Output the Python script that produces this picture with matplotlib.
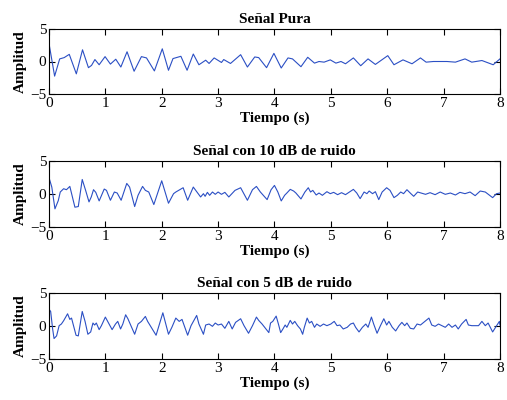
"""Señal pura y con ruido (10 dB, 5 dB): tres paneles apilados estilo MATLAB."""

import matplotlib as mpl
import matplotlib.pyplot as plt

mpl.use("Agg")

# (tiempo [s], amplitud)
PURA = [
    (0.0, 2.8), (0.1, -2.25), (0.19, 0.4), (0.27, 0.6), (0.36, 1.1), (0.485, -1.9),
    (0.595, 1.8), (0.7, -0.95), (0.755, -0.6), (0.815, 0.3), (0.89, -0.5), (0.995, 0.75),
    (1.09, -0.4), (1.185, 0.35), (1.275, -0.85), (1.385, 1.5), (1.51, -1.5), (1.64, 0.75),
    (1.73, 0.55), (1.87, -1.45), (2.01, 1.95), (2.12, -1.35), (2.2, 0.45), (2.34, 0.8),
    (2.45, -1.35), (2.56, 1.15), (2.66, -0.5), (2.72, -0.15), (2.78, 0.2), (2.84, -0.3),
    (2.93, 0.55), (3.06, -0.15), (3.1, 0.3), (3.22, -0.3), (3.4, 1.05), (3.52, -0.85),
    (3.65, 0.7), (3.72, 0.6), (3.86, -0.95), (3.99, 1.25), (4.12, -1.0), (4.24, 0.55),
    (4.32, 0.4), (4.47, -0.8), (4.59, 0.65), (4.71, -0.25), (4.79, 0.0), (4.88, -0.1),
    (4.99, 0.25), (5.09, -0.25), (5.18, 0.0), (5.26, -0.35), (5.4, 0.55), (5.53, -0.65),
    (5.66, 0.4), (5.79, -0.45), (6.01, 0.9), (6.12, -0.5), (6.28, 0.25), (6.44, -0.35),
    (6.59, 0.55), (6.69, -0.1), (6.82, 0.0), (7.06, 0.0), (7.21, -0.1), (7.38, 0.4),
    (7.5, -0.1), (7.68, 0.15), (7.88, -0.5), (8.0, 0.4),
]

RUIDO_10 = [
    (0.0, 2.5), (0.05, 1.05), (0.106, -2.25), (0.165, -1.0), (0.2, 0.3), (0.26, 0.8),
    (0.31, 0.65), (0.37, 1.15), (0.46, -2.0), (0.52, -1.9), (0.59, 2.2), (0.65, 0.55),
    (0.71, -1.2), (0.75, -0.45), (0.79, 0.65), (0.83, 0.25), (0.89, -1.05), (0.98, 0.75),
    (1.02, 0.55), (1.09, -0.95), (1.16, 0.3), (1.21, 0.15), (1.28, -0.95), (1.38, 1.6),
    (1.43, 1.05), (1.52, -1.9), (1.58, -0.2), (1.66, 1.15), (1.71, 0.55), (1.77, 0.3),
    (1.86, -1.6), (2.0, 2.0), (2.12, -1.4), (2.21, 0.05), (2.25, 0.3), (2.38, 0.95),
    (2.46, -0.95), (2.56, 1.05), (2.69, -0.45), (2.74, 0.05), (2.77, -0.35), (2.81, 0.25),
    (2.85, -0.2), (2.9, 0.3), (2.95, -0.05), (3.0, 0.3), (3.06, -0.05), (3.12, 0.25),
    (3.19, -0.45), (3.3, 0.55), (3.4, 0.95), (3.52, -0.95), (3.61, 0.65), (3.68, 1.15),
    (3.75, 0.3), (3.87, -0.85), (3.94, 0.65), (4.0, 1.3), (4.06, 0.3), (4.12, -1.05),
    (4.18, -0.2), (4.22, 0.15), (4.28, 0.7), (4.34, 0.45), (4.38, 0.15), (4.47, -0.75),
    (4.54, 0.3), (4.6, 0.95), (4.64, 0.3), (4.68, 0.55), (4.74, -0.15), (4.79, 0.15),
    (4.85, -0.2), (4.93, 0.35), (4.99, 0.05), (5.05, 0.25), (5.12, -0.1), (5.19, 0.2),
    (5.26, -0.1), (5.4, 0.7), (5.46, 0.15), (5.52, -0.7), (5.59, 0.3), (5.64, 0.05),
    (5.68, 0.45), (5.74, 0.05), (5.79, 0.35), (5.85, -0.85), (5.91, 0.3), (5.99, 0.95),
    (6.05, 0.55), (6.12, -0.55), (6.18, -0.2), (6.24, 0.3), (6.29, 0.05), (6.35, 0.65),
    (6.42, 0.05), (6.47, -0.35), (6.54, 0.3), (6.6, 0.15), (6.68, -0.05), (6.76, 0.2),
    (6.85, -0.1), (6.94, 0.3), (7.03, -0.05), (7.12, 0.15), (7.21, -0.15), (7.29, 0.25),
    (7.38, 0.05), (7.47, 0.3), (7.56, -0.25), (7.65, 0.45), (7.74, 0.3), (7.87, -0.55),
    (7.94, 0.05), (8.0, 0.15),
]

RUIDO_5 = [
    (0.0, 2.55), (0.03, 2.2), (0.065, -0.45), (0.09, -1.9), (0.135, -1.5), (0.18, 0.05),
    (0.22, 0.3), (0.26, 0.8), (0.33, 1.85), (0.37, 1.0), (0.4, 1.2), (0.48, -1.4),
    (0.52, -1.5), (0.59, 2.2), (0.64, 0.7), (0.69, -1.25), (0.74, -0.9), (0.78, 0.45),
    (0.81, 0.15), (0.84, 0.45), (0.89, -0.55), (0.93, 0.05), (1.0, 1.35), (1.05, 0.55),
    (1.12, -0.55), (1.18, 0.3), (1.22, 0.7), (1.27, -0.45), (1.31, 0.3), (1.36, 1.7),
    (1.4, 1.1), (1.52, -1.25), (1.58, 0.3), (1.64, 0.7), (1.71, 1.45), (1.75, 0.7),
    (1.9, -1.4), (2.02, 2.0), (2.06, 0.7), (2.12, -1.25), (2.18, -0.2), (2.25, 1.2),
    (2.31, 0.7), (2.36, 1.0), (2.46, -1.4), (2.52, 0.05), (2.62, 1.6), (2.66, 0.3),
    (2.74, -1.25), (2.78, 0.15), (2.84, 0.3), (2.9, -0.05), (2.95, 0.45), (3.0, 0.15),
    (3.06, 0.3), (3.12, -0.35), (3.19, 0.7), (3.25, -0.45), (3.31, 0.55), (3.4, 1.1),
    (3.46, 0.05), (3.54, -1.1), (3.61, 0.05), (3.68, 1.35), (3.72, 0.85), (3.78, 0.3),
    (3.9, -1.0), (3.93, 0.45), (3.97, 0.7), (4.03, 1.5), (4.07, 0.3), (4.11, -1.0),
    (4.15, -0.45), (4.19, 0.15), (4.22, -0.2), (4.28, 0.85), (4.32, 0.3), (4.36, 0.7),
    (4.41, 0.05), (4.46, -0.45), (4.5, -1.25), (4.53, -0.2), (4.58, 1.2), (4.62, 0.45),
    (4.66, 0.7), (4.71, -0.2), (4.75, 0.3), (4.81, -0.05), (4.87, 0.3), (4.93, 0.05),
    (5.0, 0.3), (5.06, 0.7), (5.11, 0.05), (5.16, 0.15), (5.22, -0.45), (5.29, -0.2),
    (5.35, 0.3), (5.4, 0.45), (5.44, -0.2), (5.5, -0.9), (5.56, -0.2), (5.62, 0.3),
    (5.66, -0.2), (5.72, 1.35), (5.76, 0.3), (5.82, -1.1), (5.88, 0.05), (5.94, 1.1),
    (5.99, 0.15), (6.03, 0.7), (6.09, -0.2), (6.15, -0.75), (6.21, 0.05), (6.26, 0.55),
    (6.31, 0.05), (6.35, 0.45), (6.41, -0.35), (6.47, -0.45), (6.53, 0.3), (6.59, 0.15),
    (6.74, 1.2), (6.79, 0.15), (6.85, -0.05), (6.91, 0.3), (6.97, 0.05), (7.03, -0.2),
    (7.09, 0.3), (7.15, -0.2), (7.21, 0.15), (7.26, -0.45), (7.32, 0.3), (7.4, 1.0),
    (7.44, 0.15), (7.5, 0.05), (7.62, 0.05), (7.68, 0.7), (7.74, 0.05), (7.79, 0.45),
    (7.87, -0.9), (7.94, 0.05), (7.99, 0.7), (8.0, 0.15),
]

TITULOS = ["Señal Pura", "Señal con 10 dB de ruido", "Señal con 5 dB de ruido"]
X_TICKS = [0, 1, 2, 3, 4, 5, 6, 7, 8]
Y_TICKS = [-5, 0, 5]

LINE_COLOR = "#2b4fc4"
SERIF = ["Liberation Serif", "DejaVu Serif"]

mpl.rcParams.update({
    "font.family": SERIF,
    "xtick.direction": "in",
    "ytick.direction": "in",
    "xtick.top": True,
    "ytick.right": True,
    "xtick.major.size": 4,
    "ytick.major.size": 4,
    "xtick.labelsize": 11,
    "ytick.labelsize": 11,
    "axes.linewidth": 0.8,
})

fig = plt.figure(figsize=(5.07, 4.00), dpi=100)

# axes boxes in figure fractions: [left, bottom, width, height]
boxes = [
    [0.0966, 0.765, 0.8895, 0.1625],
    [0.0966, 0.4325, 0.8895, 0.165],
    [0.0966, 0.1025, 0.8895, 0.165],
]

for box, serie, titulo in zip(boxes, [PURA, RUIDO_10, RUIDO_5], TITULOS):
    ax = fig.add_axes(box)
    t, y = zip(*serie)
    ax.plot(t, y, color=LINE_COLOR, linewidth=0.8)
    ax.set_xlim(0, 8)
    ax.set_ylim(-5, 5)
    ax.set_xticks(X_TICKS)
    ax.set_yticks(Y_TICKS)
    ax.tick_params(pad=2)
    ax.set_title(titulo, fontsize=11, fontweight="bold", pad=4)
    ax.set_xlabel("Tiempo (s)", fontsize=11, fontweight="bold", labelpad=1)
    ax.set_ylabel("Amplitud", fontsize=11, fontweight="bold", labelpad=2)

fig.savefig("out.png", dpi=100)
